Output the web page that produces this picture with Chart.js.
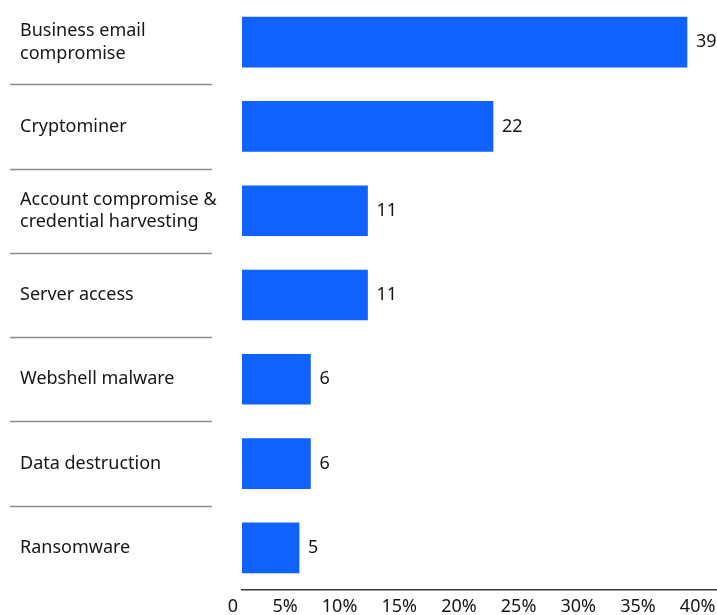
<!DOCTYPE html>
<html>
<head>
<meta charset="utf-8">
<script src="https://cdn.jsdelivr.net/npm/chart.js@4.4.1/dist/chart.umd.min.js"></script>
<style>
  html, body { margin: 0; padding: 0; background: #fff; }
  #wrap { width: 717px; height: 615px; position: relative; }
</style>
</head>
<body>
<div id="wrap"><canvas id="chart"></canvas></div>
<script>
const categories = [
  ['Business email', 'compromise'],
  'Cryptominer',
  ['Account compromise &', 'credential harvesting'],
  'Server access',
  'Webshell malware',
  'Data destruction',
  'Ransomware'
];
const shares = [39, 22, 11, 11, 6, 6, 5];
const tickValues = [0, 5, 10, 15, 20, 25, 30, 35, 40];

const ink = '#161616';
const blue = '#0f62fe';

Chart.defaults.font.family = '"Noto Sans", sans-serif';
Chart.defaults.font.size = 18;
Chart.defaults.color = ink;

// grey rules between the category labels
const separators = {
  id: 'separators',
  afterDraw(chart) {
    const y = chart.scales.y;
    const ctx = chart.ctx;
    ctx.save();
    ctx.strokeStyle = '#8d8d8d';
    ctx.lineWidth = 1.5;
    for (let i = 0; i < categories.length - 1; i++) {
      const py = Math.round((y.getPixelForValue(i) + y.getPixelForValue(i + 1)) / 2) + 0.5;
      ctx.beginPath();
      ctx.moveTo(10, py);
      ctx.lineTo(212, py);
      ctx.stroke();
    }
    ctx.restore();
  }
};

// numbers at the end of each bar
const valueLabels = {
  id: 'valueLabels',
  afterDatasetsDraw(chart) {
    const ctx = chart.ctx;
    const meta = chart.getDatasetMeta(0);
    ctx.save();
    ctx.fillStyle = ink;
    ctx.font = '18px "Noto Sans", sans-serif';
    ctx.textAlign = 'left';
    ctx.textBaseline = 'middle';
    meta.data.forEach((bar, i) => {
      ctx.fillText(String(shares[i]), bar.x + 9, bar.y);
    });
    ctx.restore();
  }
};

const noEdgePadding = scale => {
  scale.paddingLeft = 0;
  scale.paddingRight = 0;
  scale.paddingTop = 0;
  scale.paddingBottom = 0;
};

new Chart(document.getElementById('chart'), {
  type: 'bar',
  data: {
    labels: categories,
    datasets: [{
      data: shares,
      backgroundColor: blue,
      barThickness: 50,
      borderWidth: 0
    }]
  },
  options: {
    indexAxis: 'y',
    responsive: true,
    maintainAspectRatio: false,
    animation: false,
    layout: { padding: { left: 20, top: -5, right: 0, bottom: 0 } },
    plugins: {
      legend: { display: false },
      tooltip: { enabled: false }
    },
    scales: {
      x: {
        display: false,
        min: 0,
        max: 41.63
      },
      x2: {
        position: 'bottom',
        axis: 'x',
        min: 0,
        max: 39.8,
        grid: { display: false, drawTicks: false },
        border: { display: true, color: '#393939', width: 1.5 },
        afterBuildTicks(scale) {
          scale.ticks = tickValues.map(v => ({ value: v }));
        },
        afterFit(scale) {
          scale.height = 25;
          noEdgePadding(scale);
        },
        ticks: {
          align: 'end',
          labelOffset: -4,
          padding: 6,
          maxRotation: 0,
          autoSkip: false,
          callback: v => (v === 0 ? '0' : v + '%')
        }
      },
      y: {
        grid: { display: false, drawTicks: false },
        border: { display: false },
        afterFit(scale) {
          scale.width = 222;
          noEdgePadding(scale);
        },
        ticks: {
          crossAlign: 'far',
          padding: 0,
          font: { size: 18, lineHeight: 1.25 }
        }
      }
    }
  },
  plugins: [separators, valueLabels]
});
</script>
</body>
</html>
